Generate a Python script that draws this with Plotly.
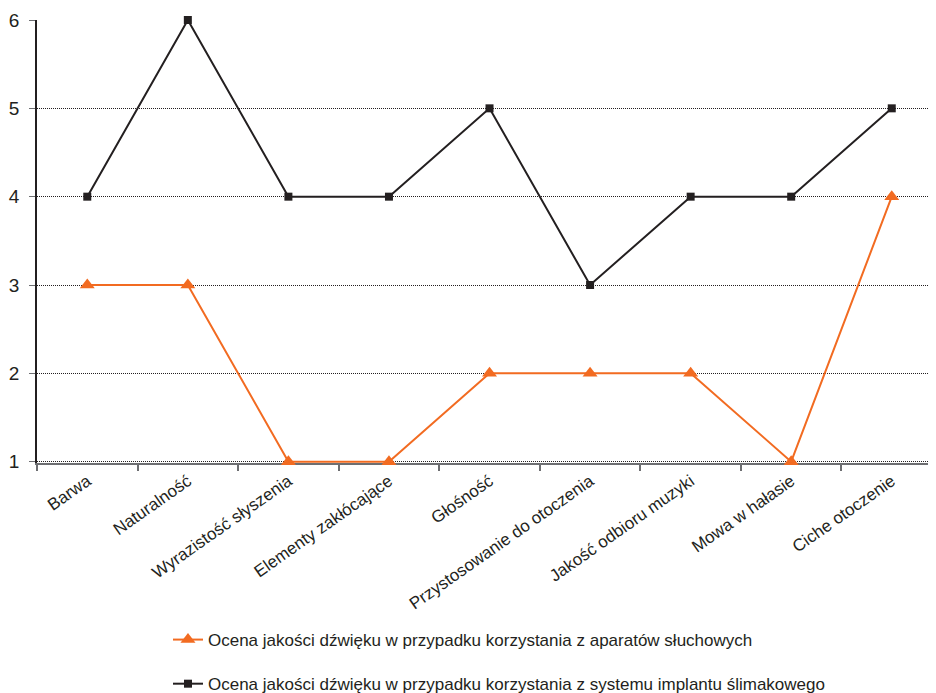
import plotly.graph_objects as go

categories = ["Barwa", "Naturalność", "Wyrazistość słyszenia", "Elementy zakłócające",
              "Głośność", "Przystosowanie do otoczenia", "Jakość odbioru muzyki",
              "Mowa w hałasie", "Ciche otoczenie"]
aparaty = [3, 3, 1, 1, 2, 2, 2, 1, 4]
implant = [4, 6, 4, 4, 5, 3, 4, 4, 5]
name_aparaty = "Ocena jakości dźwięku w przypadku korzystania z aparatów słuchowych"
name_implant = "Ocena jakości dźwięku w przypadku korzystania z systemu implantu ślimakowego"
y_ticks = [1, 2, 3, 4, 5, 6]

FONT = "Liberation Sans, Arial, sans-serif"
ORANGE = "#F26B21"
BLACK = "#231F20"

fig = go.Figure()
fig.add_trace(go.Scatter(
    x=categories, y=implant, name=name_implant, mode="lines+markers",
    line=dict(color=BLACK, width=2), marker=dict(symbol="square", size=8, color=BLACK),
    legendgroup="b", legendrank=2, cliponaxis=False))
fig.add_trace(go.Scatter(
    x=categories, y=aparaty, name=name_aparaty, mode="lines+markers",
    line=dict(color=ORANGE, width=2), marker=dict(symbol="triangle-up", size=13, color=ORANGE),
    legendgroup="a", legendrank=1, cliponaxis=False))

fig.update_layout(
    width=928, height=685,
    margin=dict(l=29, r=0, t=12, b=230),
    paper_bgcolor="white", plot_bgcolor="white",
    font=dict(family=FONT, size=17, color="#231F20"),
    legend=dict(x=0.1457, xanchor="left", yref="container", y=0.1036, yanchor="top",
                orientation="v", traceorder="grouped", tracegroupgap=19,
                font=dict(size=17), bgcolor="rgba(0,0,0,0)"),
    xaxis=dict(type="category", range=[-0.5, 8.44], showgrid=False, automargin=False,
               showline=True, linecolor="#6d6e71", linewidth=1.5, layer="below traces",
               ticks="outside", tickson="boundaries", ticklen=6, tickcolor="#6d6e71", tickwidth=1.5,
               tickangle=-35, tickfont=dict(size=17)),
    yaxis=dict(range=[0.985, 6], tickvals=y_ticks, showgrid=True, gridcolor="#231F20",
               griddash="1px,1px", gridwidth=1, zeroline=False, automargin=False,
               showline=True, linecolor="#231F20", linewidth=1.5, layer="below traces",
               ticks="outside", ticklen=6, tickcolor="#6d6e71", ticklabelstandoff=6,
               tickfont=dict(size=19)),
)

fig.write_html("out.html")
